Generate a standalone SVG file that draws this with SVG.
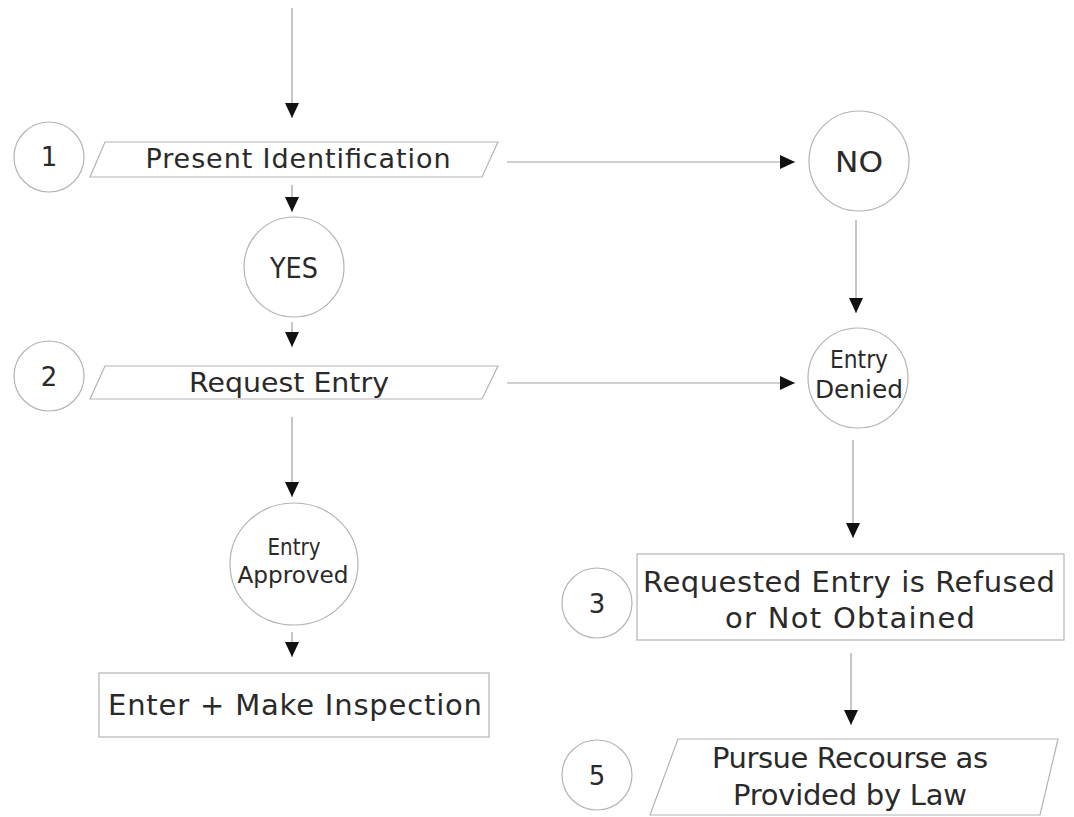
<svg xmlns="http://www.w3.org/2000/svg" width="1074" height="817" viewBox="0 0 1074 817">
<style>
.shape{fill:#fff;stroke:#b4b4b4;stroke-width:1.2}
.line{fill:none;stroke:#a0a0a0;stroke-width:1.2}
text{font-family:"DejaVu Sans","Liberation Sans",sans-serif;fill:#2a2a2a;text-anchor:middle}
</style>
<defs>
<marker id="ah" markerUnits="userSpaceOnUse" markerWidth="16" markerHeight="14" refX="15" refY="7" orient="auto">
<path d="M0,0 L15,7 L0,14 z" fill="#111"/>
</marker>
</defs>
<rect width="1074" height="817" fill="#fff"/>
<g id="connectors">
<line class="line" x1="292" y1="8" x2="292" y2="118" marker-end="url(#ah)"/>
<line class="line" x1="292" y1="185" x2="292" y2="212" marker-end="url(#ah)"/>
<line class="line" x1="292" y1="322" x2="292" y2="347" marker-end="url(#ah)"/>
<line class="line" x1="292" y1="417" x2="292" y2="497" marker-end="url(#ah)"/>
<line class="line" x1="292" y1="632" x2="292" y2="657" marker-end="url(#ah)"/>
<line class="line" x1="507" y1="162" x2="795" y2="162" marker-end="url(#ah)"/>
<line class="line" x1="507" y1="383" x2="795" y2="383" marker-end="url(#ah)"/>
<line class="line" x1="856" y1="220" x2="856" y2="313" marker-end="url(#ah)"/>
<line class="line" x1="853" y1="440" x2="853" y2="538" marker-end="url(#ah)"/>
<line class="line" x1="851" y1="653" x2="851" y2="725" marker-end="url(#ah)"/>
</g>
<g id="n1">
<circle class="shape" cx="49" cy="157" r="35"/>
<text x="49" y="166" font-size="26">1</text>
</g>
<g id="present-identification">
<polygon class="shape" points="105,142 498,142 482,177 90,177"/>
<text x="298" y="168" font-size="27" textLength="305" lengthAdjust="spacing">Present Identification</text>
</g>
<g id="yes">
<circle class="shape" cx="294" cy="267" r="50"/>
<text x="294" y="278" font-size="28" textLength="48" lengthAdjust="spacingAndGlyphs">YES</text>
</g>
<g id="n2">
<circle class="shape" cx="49" cy="376" r="35"/>
<text x="49" y="386" font-size="26">2</text>
</g>
<g id="request-entry">
<polygon class="shape" points="105,366 498,366 482,399 90,399"/>
<text x="289" y="392" font-size="27" textLength="200" lengthAdjust="spacingAndGlyphs">Request Entry</text>
</g>
<g id="no">
<circle class="shape" cx="859" cy="161" r="50"/>
<text x="859" y="172" font-size="28" textLength="48" lengthAdjust="spacingAndGlyphs">NO</text>
</g>
<g id="entry-denied">
<circle class="shape" cx="858" cy="378" r="50"/>
<text x="859" y="368" font-size="24" textLength="58" lengthAdjust="spacingAndGlyphs">Entry</text>
<text x="859" y="398" font-size="24" textLength="88" lengthAdjust="spacingAndGlyphs">Denied</text>
</g>
<g id="entry-approved">
<ellipse class="shape" cx="294" cy="564" rx="64" ry="61"/>
<text x="294" y="555" font-size="23" textLength="53" lengthAdjust="spacingAndGlyphs">Entry</text>
<text x="293" y="583" font-size="23" textLength="111" lengthAdjust="spacingAndGlyphs">Approved</text>
</g>
<g id="enter-inspection">
<rect class="shape" x="99" y="673" width="390" height="64"/>
<text x="295" y="715" font-size="29" textLength="374" lengthAdjust="spacing">Enter + Make Inspection</text>
</g>
<g id="n3">
<circle class="shape" cx="597" cy="603" r="35"/>
<text x="597" y="613" font-size="26">3</text>
</g>
<g id="refused">
<rect class="shape" x="637" y="554" width="427" height="86"/>
<text x="849" y="592" font-size="29" textLength="412" lengthAdjust="spacing">Requested Entry is Refused</text>
<text x="850" y="628" font-size="29" textLength="250" lengthAdjust="spacing">or Not Obtained</text>
</g>
<g id="n5">
<circle class="shape" cx="597" cy="775" r="35"/>
<text x="597" y="785" font-size="26">5</text>
</g>
<g id="recourse">
<polygon class="shape" points="678,739 1058,739 1040,815 650,815"/>
<text x="850" y="768" font-size="29" textLength="276" lengthAdjust="spacing">Pursue Recourse as</text>
<text x="850" y="805" font-size="29" textLength="234" lengthAdjust="spacing">Provided by Law</text>
</g>
</svg>
